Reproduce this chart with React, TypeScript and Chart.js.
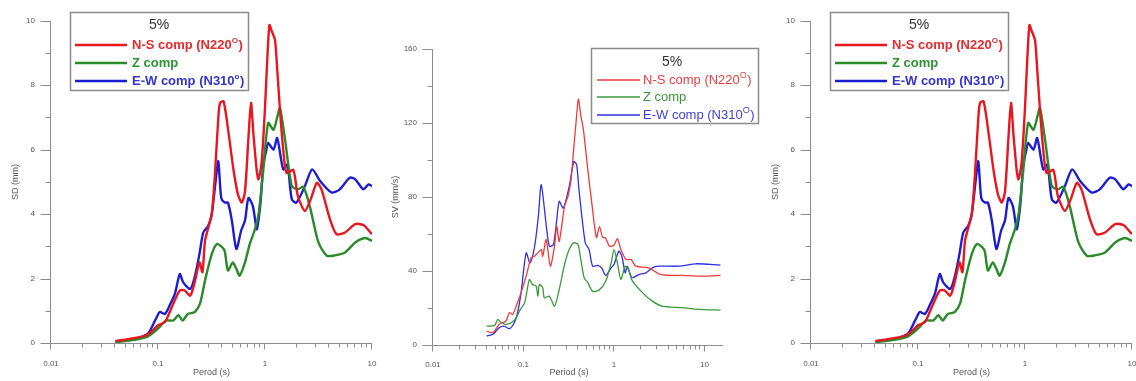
import React, { useEffect, useRef } from "react";
import { Chart, registerables } from "chart.js";

Chart.register(...registerables);

const FONT = '"Liberation Sans", Arial, Helvetica, sans-serif';

// ---------- SD panels (left and right) ----------
const SD_NS_T = [0.04, 0.06, 0.078, 0.09, 0.1, 0.116, 0.13, 0.139, 0.16, 0.178, 0.2, 0.22, 0.244, 0.26, 0.275, 0.295, 0.318, 0.34, 0.366, 0.38, 0.41, 0.45, 0.51, 0.56, 0.607, 0.65, 0.7, 0.74, 0.78, 0.84, 0.87, 0.93, 1.0, 1.05, 1.1, 1.15, 1.24, 1.3, 1.38, 1.48, 1.59, 1.84, 2.03, 2.36, 2.7, 3.05, 3.37, 4.05, 4.65, 5.6, 6.97, 8.3, 10];
const SD_NS_V = [0.06, 0.15, 0.24, 0.4, 0.55, 0.65, 1.0, 1.22, 1.63, 1.63, 1.47, 1.88, 2.5, 2.2, 3.17, 3.58, 4.0, 5.2, 6.98, 7.45, 7.5, 6.67, 5.33, 4.6, 4.36, 4.7, 6.36, 7.45, 6.47, 5.3, 5.08, 5.6, 7.3, 8.8, 9.87, 9.7, 9.4, 8.5, 7.24, 6.0, 5.28, 5.37, 4.56, 4.1, 4.5, 4.97, 4.77, 3.84, 3.38, 3.43, 3.69, 3.66, 3.38];

const SD_Z_T = [0.04, 0.06, 0.08, 0.1, 0.11, 0.12, 0.139, 0.155, 0.17, 0.19, 0.22, 0.247, 0.275, 0.318, 0.355, 0.39, 0.42, 0.45, 0.5, 0.54, 0.58, 0.65, 0.72, 0.8, 0.87, 0.96, 1.07, 1.2, 1.3, 1.38, 1.54, 1.78, 2.03, 2.28, 2.62, 3.16, 3.78, 4.5, 5.6, 6.97, 8.6, 10];
const SD_Z_V = [0.03, 0.1, 0.2, 0.45, 0.6, 0.7, 0.7, 0.86, 0.7, 0.9, 0.96, 1.22, 1.94, 2.76, 3.07, 3.0, 2.86, 2.25, 2.5, 2.3, 2.09, 2.5, 3.07, 3.5, 4.0, 5.3, 6.83, 6.62, 7.0, 7.29, 6.31, 4.87, 4.77, 4.85, 4.25, 3.12, 2.71, 2.72, 2.81, 3.12, 3.26, 3.17];

const SD_EW_T = [0.04, 0.06, 0.08, 0.094, 0.104, 0.116, 0.13, 0.144, 0.16, 0.172, 0.2, 0.22, 0.244, 0.265, 0.295, 0.318, 0.345, 0.366, 0.39, 0.42, 0.45, 0.49, 0.54, 0.6, 0.65, 0.7, 0.77, 0.84, 0.91, 0.96, 1.03, 1.07, 1.2, 1.3, 1.48, 1.62, 1.78, 1.97, 2.36, 2.76, 3.27, 4.2, 5.0, 6.2, 6.97, 8.3, 9.3, 10];
const SD_EW_V = [0.05, 0.13, 0.28, 0.7, 0.96, 0.9, 1.2, 1.53, 2.14, 1.88, 1.68, 2.04, 2.76, 3.43, 3.64, 4.0, 5.0, 5.64, 4.5, 4.36, 4.36, 3.8, 2.92, 3.5, 3.8, 4.5, 4.25, 3.53, 4.4, 5.49, 6.0, 6.21, 6.0, 6.36, 5.39, 5.54, 4.46, 4.36, 4.87, 5.39, 5.03, 4.67, 4.77, 5.13, 5.08, 4.77, 4.92, 4.87];

// ---------- SV panel (middle) ----------
const SV_NS_T = [0.039, 0.046, 0.054, 0.064, 0.07, 0.076, 0.083, 0.094, 0.107, 0.121, 0.132, 0.144, 0.157, 0.163, 0.178, 0.198, 0.22, 0.233, 0.248, 0.284, 0.31, 0.335, 0.358, 0.38, 0.404, 0.43, 0.46, 0.51, 0.58, 0.64, 0.69, 0.75, 0.8, 0.89, 1.0, 1.09, 1.19, 1.36, 1.54, 1.74, 2.4, 3.3, 5.6, 10, 15];
const SV_NS_V = [7.5, 6.7, 11.2, 13, 17.5, 16.5, 21, 28.3, 37.2, 47.1, 48, 49.8, 51.6, 48, 57, 42.6, 53.4, 64.2, 56, 75, 80.4, 89.4, 105.6, 120, 132.9, 124, 116, 96, 73, 58, 64, 58, 58, 53.4, 54, 57.4, 51.6, 46.2, 46.2, 42.6, 41.7, 38.1, 37.6, 37.2, 37.6];

const SV_Z_T = [0.039, 0.048, 0.052, 0.057, 0.064, 0.073, 0.083, 0.09, 0.103, 0.116, 0.126, 0.138, 0.144, 0.15, 0.163, 0.17, 0.193, 0.22, 0.248, 0.284, 0.32, 0.36, 0.4, 0.43, 0.47, 0.51, 0.58, 0.686, 0.81, 0.93, 1.0, 1.09, 1.19, 1.33, 1.44, 1.6, 2.06, 2.65, 3.4, 5.6, 8.6, 15];
const SV_Z_V = [10.2, 10.6, 13.9, 12, 11.2, 12, 14.7, 18.3, 22.9, 35.4, 32.7, 31.8, 26.4, 32.7, 31, 25.5, 26.4, 21, 30, 43.5, 51.6, 55.2, 54.3, 46.2, 36, 34, 29, 29.8, 34.5, 44.4, 51.6, 44.4, 35.4, 42.6, 40.8, 34.5, 28.3, 23.7, 21, 20.2, 19.3, 18.9];

const SV_EW_T = [0.039, 0.046, 0.054, 0.061, 0.07, 0.079, 0.086, 0.094, 0.107, 0.118, 0.132, 0.146, 0.157, 0.178, 0.193, 0.214, 0.233, 0.248, 0.275, 0.32, 0.36, 0.386, 0.41, 0.48, 0.53, 0.58, 0.66, 0.73, 0.81, 0.93, 1.0, 1.13, 1.22, 1.33, 1.4, 1.58, 1.89, 2.25, 2.65, 3.1, 5.2, 8.0, 15];
const SV_EW_V = [4.9, 5.8, 9.4, 10.2, 8.8, 12, 17.5, 28.3, 49.8, 44.4, 52.7, 69.6, 86.7, 65, 53.4, 54.3, 67.8, 77.7, 74, 85.8, 99.2, 97.5, 84, 55.4, 51.6, 42.6, 43, 41.7, 37.6, 41.7, 43.5, 50.7, 48, 39, 42.6, 36.4, 38.1, 39, 41.7, 42.6, 42.6, 43.9, 43.2];

// ---------- texts ----------
const X_DECADES = [0.01, 0.1, 1, 10];
const X_DECADE_LABELS = ["0.01", "0.1", "1", "10"];
const LEGEND_TITLE = "5%";
const SD_LABELS = [
  [{ t: "N-S comp (N220" }, { t: "O", sup: true }, { t: ")" }],
  [{ t: "Z comp" }],
  [{ t: "E-W comp (N310" }, { t: "o", sup: true }, { t: ")" }],
];
const SV_LABELS = [
  [{ t: "N-S comp (N220" }, { t: "O", sup: true }, { t: ")" }],
  [{ t: "Z comp" }],
  [{ t: "E-W comp (N310" }, { t: "O", sup: true }, { t: ")" }],
];

const xy = (t: number[], v: number[]) => t.map((x, i) => ({ x, y: v[i] }));

type Seg = { t: string; sup?: boolean };

type Panel = {
  left: number;
  yMax: number;
  yMajor: number;
  yMinor: number;
  xMax: number;
  yAxisWidth: number;
  xAxisHeight: number;
  padTop: number;
  padRight: number;
  xLabelDy: number;
  yTitle: string;
  xTitle: string;
  yTitleX: number;
  xTitleX: number | null;
  xTitleY: number;
  lineWidth: number;
  colors: string[];
  textColors: string[];
  series: { x: number; y: number }[][];
  labels: Seg[][];
  legend: {
    box: number[];
    titleX: number;
    titleY: number;
    rows: number[];
    line: number[];
    textX: number;
    font: string;
    supFont: string;
    lineWidth: number;
  };
};

const SD_COLORS = ["#e8161e", "#2a8a2a", "#1c1cd2"];
const SD_TEXT = ["#e52a30", "#2f9232", "#3434d0"];
const SV_COLORS = ["#f03a3a", "#3a9a3a", "#2f2fe6"];
const SV_TEXT = ["#e83a3e", "#3a963a", "#4040d4"];

const sdPanel = (left: number): Panel => ({
  left,
  yMax: 10,
  yMajor: 2,
  yMinor: 1,
  xMax: 10,
  yAxisWidth: 51,
  xAxisHeight: 38,
  padTop: 19,
  padRight: 8,
  xLabelDy: 21,
  yTitle: "SD (mm)",
  xTitle: "Perod (s)",
  yTitleX: 16,
  xTitleX: null,
  xTitleY: 373,
  lineWidth: 2.4,
  colors: SD_COLORS,
  textColors: SD_TEXT,
  series: [xy(SD_NS_T, SD_NS_V), xy(SD_Z_T, SD_Z_V), xy(SD_EW_T, SD_EW_V)],
  labels: SD_LABELS,
  legend: {
    box: [70, 12, 249, 91],
    titleX: 159,
    titleY: 25,
    rows: [45, 63, 81],
    line: [75, 127],
    textX: 132,
    font: "bold 13px " + FONT,
    supFont: "bold 8px " + FONT,
    lineWidth: 2.4,
  },
});

const svPanel: Panel = {
  left: 380,
  yMax: 160,
  yMajor: 40,
  yMinor: 20,
  xMax: 16,
  yAxisWidth: 53,
  xAxisHeight: 36,
  padTop: 49,
  padRight: 37,
  xLabelDy: 20,
  yTitle: "SV (mm/s)",
  xTitle: "Period (s)",
  yTitleX: 16,
  xTitleX: 189,
  xTitleY: 373,
  lineWidth: 1.3,
  colors: SV_COLORS,
  textColors: SV_TEXT,
  series: [xy(SV_NS_T, SV_NS_V), xy(SV_Z_T, SV_Z_V), xy(SV_EW_T, SV_EW_V)],
  labels: SV_LABELS,
  legend: {
    box: [211, 48, 379, 124],
    titleX: 292,
    titleY: 62,
    rows: [80, 97, 115],
    line: [217, 260],
    textX: 263,
    font: "13px " + FONT,
    supFont: "9px " + FONT,
    lineWidth: 1.3,
  },
};

const PANELS: Panel[] = [sdPanel(0), svPanel, sdPanel(760)];

function makePlugin(p: Panel) {
  return {
    id: "decor",
    beforeDatasetsDraw(chart: any) {
      const { ctx, chartArea: a, scales } = chart;
      const xs = scales.x;
      const ys = scales.y;
      ctx.save();
      ctx.strokeStyle = "#8c8c8c";
      ctx.lineWidth = 1;
      const ax = Math.round(a.left) - 0.5;
      const ay = Math.round(a.bottom) + 0.5;
      ctx.beginPath();
      ctx.moveTo(ax, a.top);
      ctx.lineTo(ax, ay);
      ctx.moveTo(ax, ay);
      ctx.lineTo(a.right, ay);
      // y ticks
      for (let v = 0; v <= p.yMax + 1e-9; v += p.yMinor) {
        const py = Math.round(ys.getPixelForValue(v)) + 0.5;
        const major = Math.abs(v / p.yMajor - Math.round(v / p.yMajor)) < 1e-6;
        ctx.moveTo(ax - (major ? 10 : 5), py);
        ctx.lineTo(ax, py);
      }
      // x ticks
      X_DECADES.forEach((d) => {
        for (let m = 1; m <= 9; m++) {
          const v = d * m;
          if (v > p.xMax * 1.0001) continue;
          const px = Math.round(xs.getPixelForValue(v)) - 0.5;
          ctx.moveTo(px, ay);
          ctx.lineTo(px, ay + (m === 1 ? 6 : 4));
        }
      });
      ctx.stroke();

      // x tick labels (decades)
      ctx.fillStyle = "#555";
      ctx.font = "8px " + FONT;
      ctx.textAlign = "center";
      ctx.textBaseline = "middle";
      X_DECADES.forEach((v, i) => {
        if (v > p.xMax * 1.0001) return;
        ctx.fillText(X_DECADE_LABELS[i], xs.getPixelForValue(v), a.bottom + p.xLabelDy);
      });

      // axis titles
      ctx.font = "9px " + FONT;
      const tx = p.xTitleX == null ? (a.left + a.right) / 2 : p.xTitleX;
      ctx.fillText(p.xTitle, tx, p.xTitleY);
      ctx.translate(p.yTitleX, (a.top + a.bottom) / 2);
      ctx.rotate(-Math.PI / 2);
      ctx.fillText(p.yTitle, 0, 0);
      ctx.restore();
    },
    afterDatasetsDraw(chart: any) {
      const { ctx } = chart;
      const L = p.legend;
      ctx.save();
      const [x0, y0, x1, y1] = L.box;
      ctx.fillStyle = "#fff";
      ctx.fillRect(x0, y0, x1 - x0, y1 - y0);
      ctx.strokeStyle = "#8a8a8a";
      ctx.lineWidth = 1.5;
      ctx.strokeRect(x0 + 0.5, y0 + 0.5, x1 - x0 - 1, y1 - y0 - 1);
      ctx.fillStyle = "#333";
      ctx.font = "14px " + FONT;
      ctx.textAlign = "center";
      ctx.textBaseline = "middle";
      ctx.fillText(LEGEND_TITLE, L.titleX, L.titleY);
      ctx.textAlign = "left";
      p.labels.forEach((segs, i) => {
        const ry = L.rows[i];
        ctx.strokeStyle = p.colors[i];
        ctx.lineWidth = L.lineWidth;
        ctx.beginPath();
        ctx.moveTo(L.line[0], ry);
        ctx.lineTo(L.line[1], ry);
        ctx.stroke();
        ctx.fillStyle = p.textColors[i];
        let cx = L.textX;
        segs.forEach((s) => {
          ctx.font = s.sup ? L.supFont : L.font;
          ctx.fillText(s.t, cx, s.sup ? ry - 4 : ry);
          cx += ctx.measureText(s.t).width + (s.sup ? 0.5 : 0);
        });
      });
      ctx.restore();
    },
  };
}

function PanelChart({ p }: { p: Panel }) {
  const ref = useRef<HTMLCanvasElement | null>(null);
  useEffect(() => {
    if (!ref.current) return;
    const names = ["N-S comp", "Z comp", "E-W comp"];
    const chart = new Chart(ref.current, {
      type: "line",
      data: {
        datasets: p.series.map((d, i) => ({
          label: names[i],
          data: d,
          borderColor: p.colors[i],
          backgroundColor: p.colors[i],
          borderWidth: p.lineWidth,
          pointRadius: 0,
          tension: 0.25,
          borderJoinStyle: "round" as const,
          fill: false,
        })),
      },
      options: {
        animation: false,
        responsive: false,
        devicePixelRatio: 1,
        layout: { padding: { top: p.padTop, right: p.padRight, left: 0, bottom: 0 } },
        plugins: { legend: { display: false }, tooltip: { enabled: false } },
        scales: {
          x: {
            type: "logarithmic",
            min: 0.01,
            max: p.xMax,
            grid: { display: false, drawTicks: false },
            border: { display: false },
            afterBuildTicks: (s: any) => {
              s.ticks = X_DECADES.filter((v) => v <= p.xMax).map((v) => ({ value: v }));
            },
            afterFit: (s: any) => {
              s.height = p.xAxisHeight;
            },
            ticks: { display: false },
          },
          y: {
            type: "linear",
            min: 0,
            max: p.yMax,
            grid: { display: false, drawTicks: false },
            border: { display: false },
            afterFit: (s: any) => {
              s.width = p.yAxisWidth;
            },
            ticks: {
              stepSize: p.yMajor,
              padding: 16,
              color: "#555",
              font: { size: 8, family: FONT },
            },
          },
        },
      },
      plugins: [makePlugin(p)],
    } as any);
    return () => chart.destroy();
  }, [p]);
  return (
    <canvas
      ref={ref}
      width={380}
      height={381}
      style={{ position: "absolute", left: p.left, top: 0, width: 380, height: 381 }}
    />
  );
}

export default function App() {
  return (
    <div
      style={{
        position: "absolute",
        left: 0,
        top: 0,
        width: 1136,
        height: 381,
        overflow: "hidden",
        background: "#fff",
      }}
    >
      {PANELS.map((p, i) => (
        <PanelChart key={i} p={p} />
      ))}
    </div>
  );
}
